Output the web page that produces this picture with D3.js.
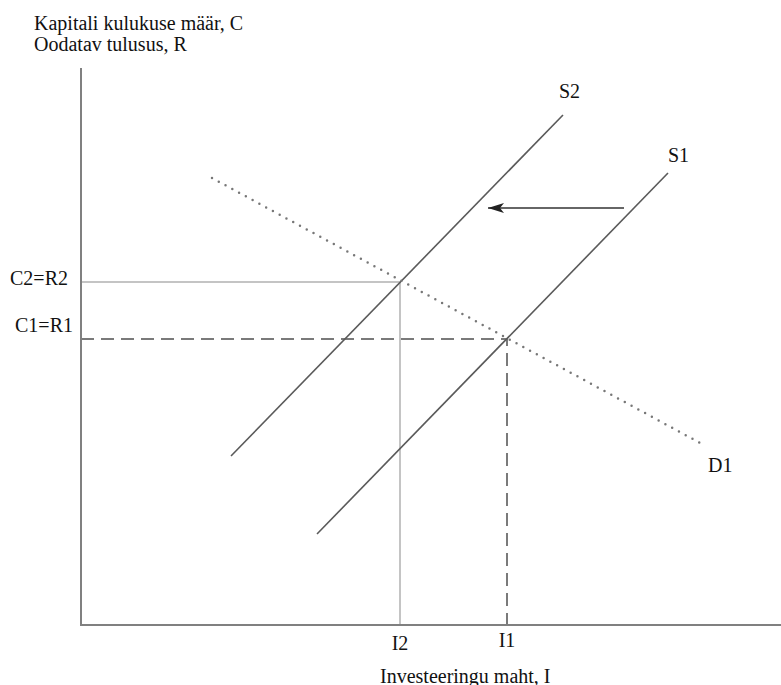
<!DOCTYPE html>
<html><head><meta charset="utf-8">
<script src="https://cdn.jsdelivr.net/npm/d3@7"></script>
<style>body{margin:0;background:#fff}svg{display:block}text{font-family:"Liberation Serif","Times New Roman",serif;fill:#111}</style>
</head><body>
<script>
// Data (economic diagram units)
const supply2 = [[150,169],[482,510]];
const supply1 = [[236,91],[587,452]];
const demand1 = [[131,447],[621,181]];
const eq2 = [319,343];
const eq1 = [426,286];
const shiftArrow = [[543,417],[407,417]];
const curveLabels = [{t:"S2",p:[478,527]},{t:"S1",p:[587,463]},{t:"D1",p:[627,153]}];
const yTickLabels = [{t:"C2=R2",v:eq2[1]},{t:"C1=R1",v:eq1[1]}];
const xTickLabels = [{t:"I2",v:eq2[0]},{t:"I1",v:eq1[0]}];
const yTitle = ["Kapitali kulukuse määr, C","Oodatav tulusus, R"];
const xTitle = "Investeeringu maht, I";

const W=781,H=685,FS=20;
const x=d3.scaleLinear().domain([0,700]).range([81,781]);
const y=d3.scaleLinear().domain([0,557]).range([625,68]);
const svg=d3.select("body").append("svg").attr("width",W).attr("height",H);
const line=d3.line().x(d=>x(d[0])).y(d=>y(d[1]));

svg.append("defs").append("marker").attr("id","ah").attr("viewBox","0 0 16 10")
 .attr("refX",16).attr("refY",5).attr("markerWidth",16).attr("markerHeight",10).attr("orient","auto")
 .attr("markerUnits","userSpaceOnUse")
 .append("path").attr("d","M0,0 L16,5 L0,10 L4,5 Z").attr("fill","#222");

// guide lines
svg.append("path").attr("d",line([[0,eq2[1]],eq2,[eq2[0],0]])).attr("fill","none").attr("stroke","#c4c4c4").attr("stroke-width",2);
svg.append("path").attr("d",line([[0,eq1[1]],eq1,[eq1[0],0]])).attr("fill","none").attr("stroke","#7a7a7a").attr("stroke-width",2).attr("stroke-dasharray","13,7");

// axes
svg.append("path").attr("d",line([[0,557],[0,0],[700,0]])).attr("fill","none").attr("stroke","#808080").attr("stroke-width",2);

// curves
[supply2,supply1].forEach(s=>svg.append("path").attr("d",line(s)).attr("fill","none").attr("stroke","#5a5a5a").attr("stroke-width",1.6));
svg.append("path").attr("d",line(demand1)).attr("fill","none").attr("stroke","#777").attr("stroke-width",2.5)
 .attr("stroke-linecap","round").attr("stroke-dasharray","0,7.7");

// arrow
svg.append("path").attr("d",line(shiftArrow)).attr("fill","none").attr("stroke","#666").attr("stroke-width",2).attr("marker-end","url(#ah)");

// labels
curveLabels.forEach(l=>svg.append("text").attr("x",x(l.p[0])).attr("y",y(l.p[1])).attr("font-size",FS).text(l.t));
yTickLabels.forEach((l,i)=>svg.append("text").attr("x",i==0?68:73).attr("y",i==0?285:332).attr("text-anchor","end").attr("font-size",FS).text(l.t));
xTickLabels.forEach((l,i)=>svg.append("text").attr("x",x(l.v)).attr("y",i==0?650:647).attr("text-anchor","middle").attr("font-size",FS).text(l.t));
yTitle.forEach((t,i)=>svg.append("text").attr("x",34).attr("y",30+i*21).attr("font-size",FS).text(t));
svg.append("text").attr("x",380).attr("y",683).attr("font-size",FS).text(xTitle);
</script>
</body></html>
